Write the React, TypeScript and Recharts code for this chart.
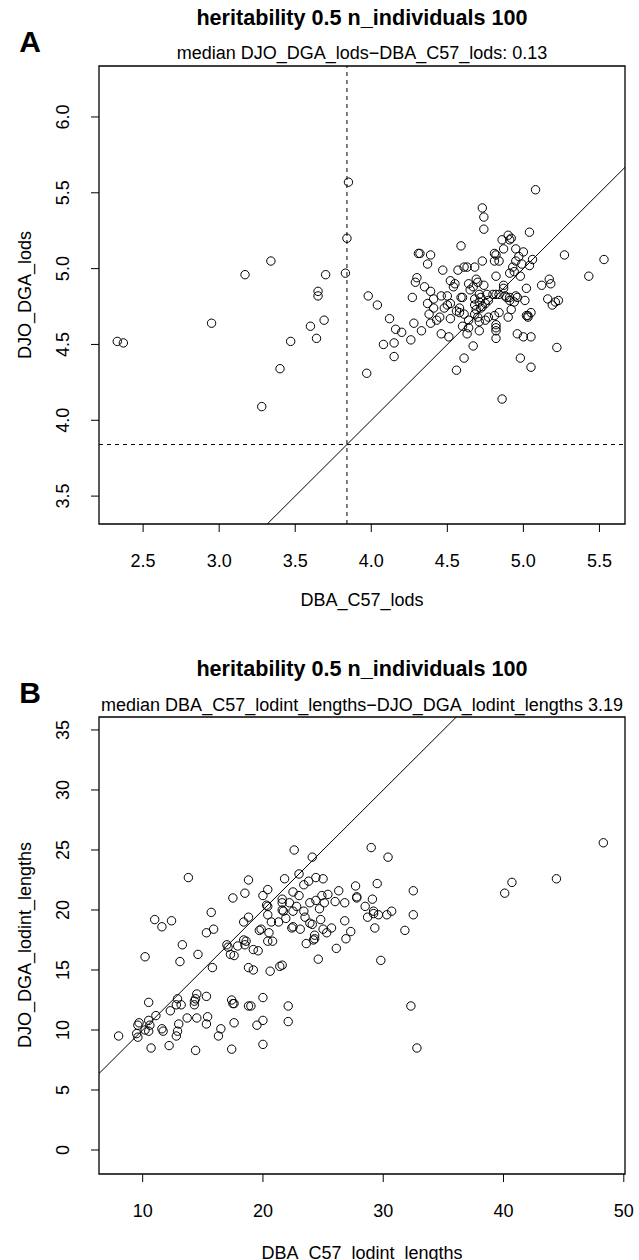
import React from 'react';
import { ScatterChart, Scatter, XAxis, YAxis, ReferenceLine, ReferenceArea } from 'recharts';

const FONT = '"Liberation Sans", Arial, Helvetica, sans-serif';

// panel A: [DBA_C57_lods, DJO_DGA_lods]
const lodsPoints: [number, number][] = [
  [3.85, 5.57], [3.84, 5.2], [3.34, 5.05], [3.17, 4.96], [3.7, 4.96], [3.83, 4.97], [3.65, 4.85], [3.65, 4.82],
  [2.95, 4.64], [3.69, 4.66], [3.6, 4.62], [3.64, 4.54], [3.47, 4.52], [2.33, 4.52], [2.37, 4.51], [3.4, 4.34],
  [3.28, 4.09],
  [5.08, 5.52], [4.73, 5.4], [4.74, 5.34], [4.74, 5.26], [5.04, 5.24], [4.9, 5.22], [4.92, 5.2], [4.86, 5.19],
  [4.91, 5.19], [4.59, 5.15], [4.87, 5.13], [4.95, 5.13], [5.0, 5.11], [4.31, 5.1], [4.32, 5.1], [4.39, 5.09],
  [4.81, 5.1], [4.82, 5.09], [5.27, 5.09], [4.97, 5.08], [5.53, 5.06], [5.06, 5.06], [4.37, 5.03], [4.73, 5.05],
  [4.81, 5.05], [4.84, 5.05], [4.95, 5.05], [5.04, 5.02], [4.99, 5.03], [4.93, 5.01], [4.68, 5.01], [4.63, 5.01],
  [4.61, 5.01], [4.57, 4.99], [4.47, 4.99], [4.91, 4.97], [4.98, 4.95], [4.94, 4.98], [4.82, 4.95], [5.43, 4.95],
  [4.3, 4.94], [4.29, 4.91], [4.52, 4.92], [4.55, 4.9], [4.54, 4.88], [4.69, 4.93], [4.7, 4.91], [4.64, 4.9],
  [4.67, 4.88], [4.74, 4.89], [5.12, 4.89], [5.17, 4.93], [5.18, 4.9], [4.35, 4.88], [4.39, 4.85], [5.02, 4.87],
  [4.87, 4.89], [4.87, 4.87], [3.98, 4.82], [4.27, 4.81], [4.46, 4.82], [4.5, 4.82], [4.59, 4.81], [4.6, 4.81],
  [4.71, 4.83], [4.76, 4.83], [4.8, 4.83], [4.82, 4.83], [4.84, 4.83], [4.88, 4.82], [4.95, 4.82], [4.96, 4.81],
  [4.91, 4.81], [5.16, 4.8], [5.23, 4.79], [5.21, 4.78], [5.19, 4.76], [5.01, 4.79], [4.04, 4.76], [4.37, 4.77],
  [4.41, 4.74], [4.5, 4.76], [4.52, 4.77], [4.58, 4.74], [4.68, 4.76], [4.71, 4.78], [4.73, 4.75], [4.75, 4.77],
  [4.77, 4.79], [4.91, 4.79], [4.94, 4.78], [4.92, 4.73], [4.38, 4.7], [4.45, 4.68], [4.43, 4.66], [4.52, 4.67],
  [4.58, 4.71], [4.61, 4.7], [4.64, 4.66], [4.68, 4.7], [4.7, 4.68], [4.75, 4.66], [4.77, 4.68], [4.81, 4.69],
  [4.84, 4.71], [4.9, 4.68], [5.02, 4.69], [5.03, 4.68], [5.03, 4.69], [5.05, 4.71], [4.12, 4.67], [4.28, 4.64],
  [4.39, 4.64], [4.16, 4.6], [4.2, 4.58], [4.33, 4.59], [4.6, 4.62], [4.64, 4.61], [4.71, 4.65], [4.71, 4.59],
  [4.82, 4.63], [4.82, 4.61], [4.82, 4.59], [4.63, 4.57], [4.46, 4.57], [4.51, 4.55], [4.96, 4.57], [5.0, 4.55],
  [5.05, 4.55], [4.82, 4.54], [4.08, 4.5], [4.15, 4.51], [4.26, 4.53], [4.67, 4.49], [4.15, 4.42], [5.22, 4.48],
  [4.98, 4.41], [4.61, 4.41], [5.05, 4.35], [4.56, 4.33], [3.97, 4.31], [4.86, 4.14],
  [4.68, 4.8], [4.72, 4.81], [4.69, 4.73], [4.72, 4.74], [4.89, 4.81], [4.65, 4.86], [4.48, 4.74], [4.56, 4.72],
  [4.41, 4.8],
];

// panel B: [DBA_C57_lodint_lengths, DJO_DGA_lodint_lengths]
const lodintPoints: [number, number][] = [
  [22.6, 25.0], [24.1, 24.4], [13.8, 22.7], [18.8, 22.5], [21.8, 22.6], [23.0, 23.0], [24.4, 22.7], [25.0, 22.6],
  [18.5, 21.4], [17.5, 21.0], [20.4, 21.7], [20.0, 21.2], [22.5, 21.5], [23.4, 22.1], [23.8, 22.4], [26.3, 21.6],
  [23.0, 21.2], [21.6, 20.9], [21.6, 20.6], [22.2, 20.6], [24.9, 21.2], [25.4, 21.3], [25.1, 20.6], [26.0, 20.7],
  [26.8, 20.6], [20.3, 20.4], [20.4, 20.3], [22.8, 20.3], [23.9, 20.6], [24.4, 20.8], [24.7, 20.1], [21.6, 20.0],
  [21.7, 19.9], [22.5, 19.9], [23.4, 19.9], [23.5, 19.4], [20.4, 19.6], [15.7, 19.8], [11.0, 19.2], [11.6, 18.6],
  [12.4, 19.1], [18.8, 19.4], [18.4, 19.0], [20.7, 19.0], [21.3, 19.0], [21.9, 19.3], [22.5, 18.6], [22.4, 18.5],
  [23.1, 18.4], [23.9, 18.9], [24.1, 18.8], [24.8, 19.2], [25.0, 18.4], [25.7, 18.5], [26.8, 19.1], [27.3, 18.2],
  [26.9, 17.6], [26.1, 16.8], [15.9, 18.4], [15.3, 18.1], [19.7, 18.3], [19.85, 18.4], [20.5, 18.1], [20.4, 17.4],
  [20.8, 17.4], [18.4, 17.5], [18.6, 17.4], [18.5, 17.1], [17.9, 17.0], [17.0, 17.1], [17.1, 16.9], [13.3, 17.1],
  [14.6, 16.3], [19.2, 16.7], [19.6, 16.6], [23.6, 17.2], [24.2, 17.5], [24.3, 17.6], [24.3, 17.9], [25.3, 18.1],
  [17.3, 16.3], [17.6, 16.2],
  [29.0, 25.2], [30.4, 24.4], [27.7, 22.0], [29.5, 22.2], [32.5, 21.6], [27.8, 21.1], [27.8, 21.0], [29.1, 20.9],
  [28.5, 20.3], [29.2, 19.9], [28.7, 19.4], [29.2, 19.7], [29.6, 19.6], [30.3, 19.6], [30.7, 19.9], [32.5, 19.6],
  [29.3, 18.5], [31.8, 18.3], [29.8, 15.8], [40.1, 21.4], [40.7, 22.3], [44.4, 22.6], [48.3, 25.6],
  [10.2, 16.1], [13.1, 15.7], [15.8, 15.2], [18.8, 15.2], [19.2, 15.0], [20.6, 14.9], [21.4, 15.3], [21.6, 15.4],
  [24.6, 15.9], [10.5, 12.3], [12.9, 12.6], [12.8, 12.1], [13.2, 12.1], [14.5, 13.0], [14.4, 12.6], [14.3, 12.4],
  [14.3, 12.1], [15.3, 12.8], [17.4, 12.5], [17.5, 12.2], [17.6, 12.2], [18.8, 12.0], [19.0, 12.0], [20.0, 12.7],
  [22.1, 12.0], [12.3, 11.6], [11.1, 11.2], [10.5, 10.8], [9.7, 10.6], [9.6, 10.4], [10.6, 10.4], [10.2, 10.0],
  [10.5, 9.9], [9.5, 9.7], [9.6, 9.4], [8.0, 9.5], [11.6, 10.1], [11.7, 9.9], [13.0, 10.5], [12.9, 9.9],
  [12.8, 9.5], [13.7, 11.0], [14.5, 11.0], [15.4, 11.1], [15.3, 10.5], [16.5, 10.1], [16.3, 9.5], [17.6, 10.6],
  [19.5, 10.4], [20.0, 10.8], [22.1, 10.7], [10.7, 8.5], [12.2, 8.7], [14.4, 8.3], [17.4, 8.4], [20.0, 8.8],
  [32.3, 12.0], [32.8, 8.5],
];

const lodsXTicks = [2.5, 3, 3.5, 4, 4.5, 5, 5.5];
const lodsYTicks = [3.5, 4, 4.5, 5, 5.5, 6];
const lodintXTicks = [10, 20, 30, 40, 50];
const lodintYTicks = [0, 5, 10, 15, 20, 25, 30, 35];
const lodThreshold = 3.84;

// axis limits (asp = 1 in both panels)
const lodsXDomain: [number, number] = [2.21, 5.668];
const lodsYDomain: [number, number] = [3.316, 6.336];
const lodintXDomain: [number, number] = [6.37, 50.1];
const lodintYDomain: [number, number] = [-2.0, 36.08];

const Circle = (props: any) => (
  <circle cx={props.cx} cy={props.cy} r={4.2} fill="none" stroke="#000" strokeWidth={1} />
);

const makeXTick = (fmt: (v: number) => string) => (props: any) => (
  <text x={props.x} y={props.y + 29} dy="0.35em" textAnchor="middle" fontSize={18} fontFamily={FONT} fill="#000">
    {fmt(props.payload.value)}
  </text>
);

const makeYTick = (fmt: (v: number) => string) => (props: any) => {
  const cx = props.x - 28;
  return (
    <text x={cx} y={props.y} dy="0.35em" textAnchor="middle" fontSize={18} fontFamily={FONT} fill="#000"
      transform={`rotate(-90, ${cx}, ${props.y})`}>
      {fmt(props.payload.value)}
    </text>
  );
};

const Txt = ({ x, y, size = 18, bold = false, rotate = false, children }: any) => (
  <div style={{
    position: 'absolute', left: x, top: y, transform: `translate(-50%, -50%)${rotate ? ' rotate(-90deg)' : ''}`,
    fontSize: size, fontWeight: bold ? 'bold' : 'normal', fontFamily: FONT, whiteSpace: 'nowrap', lineHeight: 1, color: '#000',
  }}>{children}</div>
);

const oneDecimal = (v: number) => v.toFixed(1);
const integer = (v: number) => String(v);

export default function App() {
  const lodsData = lodsPoints.map(([x, y]) => ({ x, y }));
  const lodintData = lodintPoints.map(([x, y]) => ({ x, y }));

  return (
    <div style={{ position: 'relative', width: 639, height: 1260, background: '#fff' }}>
      <style>{'body{margin:0}'}</style>

      {/* panel A */}
      <div style={{ position: 'absolute', left: 0, top: 0 }}>
        <ScatterChart width={639} height={630} margin={{ top: 66, right: 14, bottom: 0, left: 0 }}>
          <XAxis type="number" dataKey="x" domain={lodsXDomain} ticks={lodsXTicks} allowDataOverflow
            height={106} axisLine={false} tickLine={{ stroke: '#000' }} tickSize={8} tickMargin={0}
            tick={makeXTick(oneDecimal)} interval={0} />
          <YAxis type="number" dataKey="y" domain={lodsYDomain} ticks={lodsYTicks} allowDataOverflow
            width={99} axisLine={false} tickLine={{ stroke: '#000' }} tickSize={8} tickMargin={0}
            tick={makeYTick(oneDecimal)} interval={0} />
          <ReferenceArea x1={lodsXDomain[0]} x2={lodsXDomain[1]} y1={lodsYDomain[0]} y2={lodsYDomain[1]}
            fill="none" stroke="#000" strokeWidth={1.3} fillOpacity={0} />
          <ReferenceLine x={lodThreshold} stroke="#000" strokeDasharray="4 4" />
          <ReferenceLine y={lodThreshold} stroke="#000" strokeDasharray="4 4" />
          <ReferenceLine stroke="#000" segment={[{ x: lodsYDomain[0], y: lodsYDomain[0] }, { x: lodsXDomain[1], y: lodsXDomain[1] }]} />
          <Scatter data={lodsData} shape={Circle} isAnimationActive={false} />
        </ScatterChart>
      </div>
      <Txt x={30} y={42} size={30} bold>A</Txt>
      <Txt x={362} y={18} size={21.6} bold>heritability 0.5 n_individuals 100</Txt>
      <Txt x={362} y={53}>median DJO_DGA_lods−DBA_C57_lods: 0.13</Txt>
      <Txt x={362} y={600}>DBA_C57_lods</Txt>
      <Txt x={25} y={295} rotate>DJO_DGA_lods</Txt>

      {/* panel B */}
      <div style={{ position: 'absolute', left: 0, top: 630 }}>
        <ScatterChart width={639} height={630} margin={{ top: 87, right: 14, bottom: 0, left: 0 }}>
          <XAxis type="number" dataKey="x" domain={lodintXDomain} ticks={lodintXTicks} allowDataOverflow
            height={86} axisLine={false} tickLine={{ stroke: '#000' }} tickSize={8} tickMargin={0}
            tick={makeXTick(integer)} interval={0} />
          <YAxis type="number" dataKey="y" domain={lodintYDomain} ticks={lodintYTicks} allowDataOverflow
            width={99} axisLine={false} tickLine={{ stroke: '#000' }} tickSize={8} tickMargin={0}
            tick={makeYTick(integer)} interval={0} />
          <ReferenceArea x1={lodintXDomain[0]} x2={lodintXDomain[1]} y1={lodintYDomain[0]} y2={lodintYDomain[1]}
            fill="none" stroke="#000" strokeWidth={1.3} fillOpacity={0} />
          <ReferenceLine stroke="#000" segment={[{ x: lodintXDomain[0], y: lodintXDomain[0] }, { x: lodintYDomain[1], y: lodintYDomain[1] }]} />
          <Scatter data={lodintData} shape={Circle} isAnimationActive={false} />
        </ScatterChart>
      </div>
      <Txt x={30} y={693} size={30} bold>B</Txt>
      <Txt x={362} y={669} size={21.6} bold>heritability 0.5 n_individuals 100</Txt>
      <Txt x={362} y={705}>median DBA_C57_lodint_lengths−DJO_DGA_lodint_lengths 3.19</Txt>
      <Txt x={362} y={1253}>DBA_C57_lodint_lengths</Txt>
      <Txt x={25} y={945} rotate>DJO_DGA_lodint_lengths</Txt>
    </div>
  );
}
